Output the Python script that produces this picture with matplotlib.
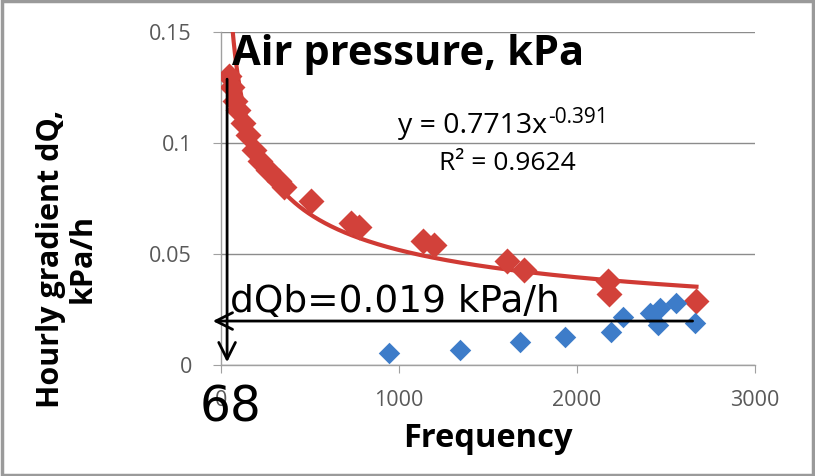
import numpy as np
import matplotlib.pyplot as plt
from matplotlib.patches import Rectangle

# red series: all hourly gradients
freq_red = [45, 62, 79, 96, 125, 153, 187, 221, 266, 323, 351, 504, 730, 775,
            1132, 1194, 1607, 1703, 2173, 2179, 2671]
dq_red = [0.130, 0.125, 0.119, 0.115, 0.109, 0.1035, 0.097, 0.092, 0.088, 0.083,
          0.080, 0.074, 0.064, 0.062, 0.056, 0.054, 0.047, 0.043, 0.038, 0.032, 0.029]

# blue series: background gradients
freq_blue = [945, 1341, 1681, 1930, 2190, 2258, 2411, 2467, 2456, 2558, 2665]
dq_blue = [0.0054, 0.0068, 0.0104, 0.0126, 0.0149, 0.0216, 0.0234, 0.0257, 0.018,
           0.0279, 0.0189]

# power trendline y = a * x^b
fit_a = 0.7713
fit_b = -0.391
dqb = 0.019
freq_68 = 34

red = "#d2413a"
blue = "#3d7cc9"
grey_txt = "#595959"

plt.rcParams["font.family"] = "Open Sans"

fig = plt.figure(figsize=(8.15, 4.76), dpi=100)
fig.patch.set_facecolor("white")
fig.patches.append(Rectangle((0.002, 0.003), 0.995, 0.994, transform=fig.transFigure,
                             fill=False, edgecolor="#9a9a9a", linewidth=2.5))

ax = fig.add_axes([0.2712, 0.2332, 0.6552, 0.6996])
ax.set_xlim(0, 3000)
ax.set_ylim(0, 0.15)

# trendline
xs = np.linspace(freq_red[0], freq_red[-1], 400)
ax.plot(xs, fit_a * xs ** fit_b, color="#d03a34", linewidth=3, zorder=3)

ax.scatter(freq_red, dq_red, marker="D", s=175, color=red, zorder=4, linewidths=0)
ax.scatter(freq_blue, dq_blue, marker="D", s=120, color=blue, zorder=4, linewidths=0)

ax.set_xticks([0, 1000, 2000, 3000])
ax.set_yticks([0, 0.05, 0.1, 0.15])
ax.set_yticklabels(["0", "0.05", "0.1", "0.15"])
ax.yaxis.grid(True, color="#8c8c8c", linewidth=1)
ax.set_axisbelow(True)
for s in ["top", "right"]:
    ax.spines[s].set_visible(False)
for s in ["left", "bottom"]:
    ax.spines[s].set_color("#a0a0a0")
    ax.spines[s].set_linewidth(1)
ax.tick_params(axis="both", colors="#a0a0a0", labelcolor=grey_txt, labelsize=15.5,
               length=6, direction="out")
ax.tick_params(axis="y", pad=15)
ax.tick_params(axis="x", pad=12)

ax.set_xlabel("Frequency", fontsize=23.5, fontweight="bold", labelpad=8)
ax.set_ylabel("Hourly gradient dQ,\nkPa/h", fontsize=22, fontweight="bold",
              linespacing=1.05)
ax.yaxis.set_label_coords(-0.232, 0.32)

ax.text(0.02, 0.901, "Air pressure, kPa", transform=ax.transAxes, fontsize=30,
        fontweight="bold", va="baseline", ha="left", zorder=6)
ax.text(0.6105, 0.697, "y = 0.7713x", transform=ax.transAxes,
        fontsize=20.5, ha="right", va="baseline")
ax.text(0.6125, 0.727, "-0.391", transform=ax.transAxes,
        fontsize=15, ha="left", va="baseline")
ax.text(0.537, 0.586, "R\u00b2 = 0.9624", transform=ax.transAxes, fontsize=19,
        ha="center", va="baseline")

# annotation arrows
ax.annotate("", xy=(freq_68, 0.0), xytext=(freq_68, dq_red[0]),
            arrowprops=dict(arrowstyle="->", color="black", lw=2, mutation_scale=30),
            annotation_clip=False, zorder=7)
ax.annotate("", xy=(-62, dqb + 0.0008), xytext=(freq_blue[-1], dqb + 0.0008),
            arrowprops=dict(arrowstyle="->", color="black", lw=2, mutation_scale=30),
            annotation_clip=False, zorder=7)
ax.text(50, dqb + 0.0013, "dQb=0.019 kPa/h", fontsize=27, family="DejaVu Sans",
        ha="left", va="bottom", zorder=7)
ax.text(-120, -0.0085, "68", fontsize=35, family="DejaVu Sans", ha="left", va="top",
        zorder=7)

fig.savefig("out.png", dpi=100)
